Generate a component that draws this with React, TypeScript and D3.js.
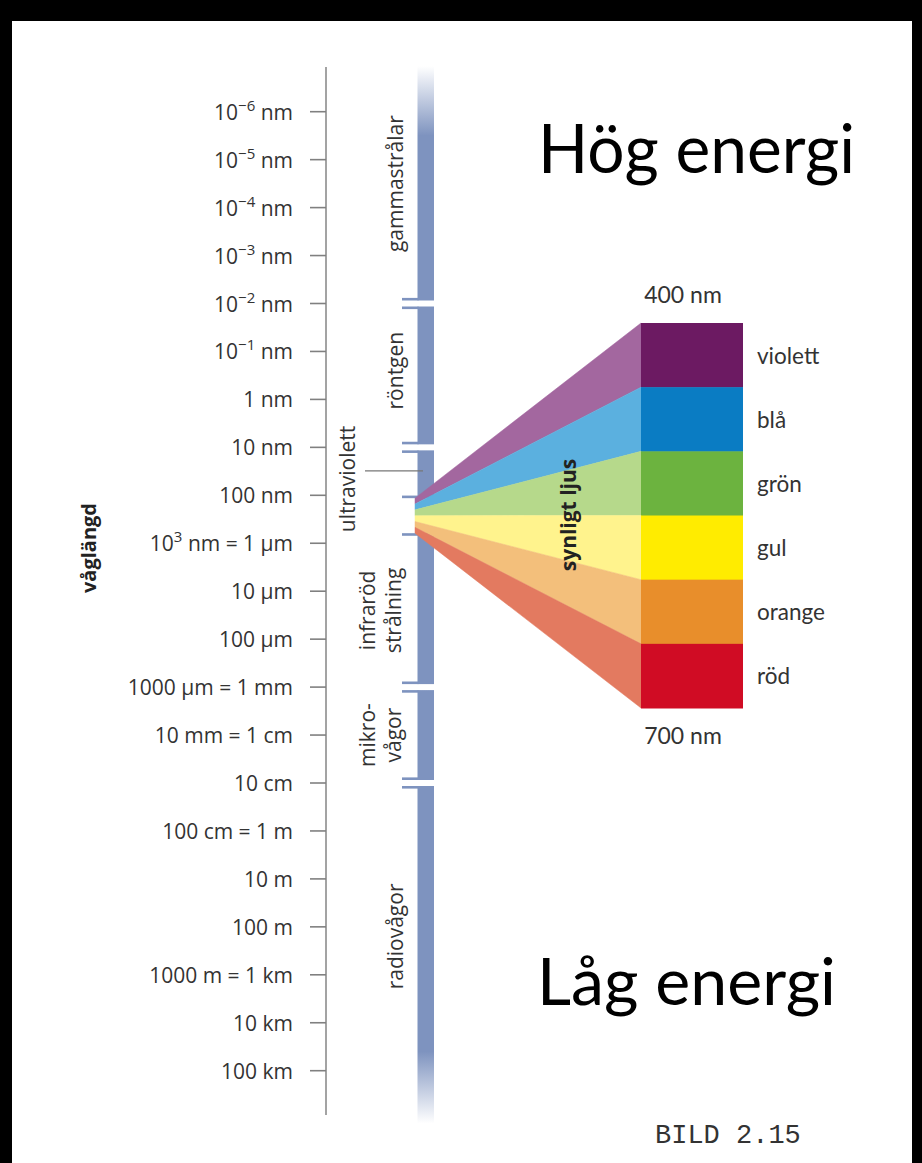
import * as d3 from 'd3';

// wavelength ticks, log10 of the wavelength in nm
const tickExponents = [-6, -5, -4, -3, -2, -1, 0, 1, 2, 3, 4, 5, 6, 7, 8, 9, 10, 11, 12, 13, 14];
const tickLabels = [
  '10^−6 nm', '10^−5 nm', '10^−4 nm', '10^−3 nm', '10^−2 nm', '10^−1 nm', '1 nm', '10 nm', '100 nm',
  '10^3 nm = 1 µm', '10 µm', '100 µm', '1000 µm = 1 mm', '10 mm = 1 cm', '10 cm', '100 cm = 1 m',
  '10 m', '100 m', '1000 m = 1 km', '10 km', '100 km',
];

// regions along the bar (log10 nm, as drawn in the figure)
const regionNames = [['gammastrålar'], ['röntgen'], ['ultraviolett'], ['infraröd', 'strålning'], ['mikro-', 'vågor'], ['radiovågor']];
const regionFrom = [-6.95, -2, 1, 2.79, 6, 8];
const regionTo = [-2, 1, 2.06, 6, 8, 15.1];
const regionLabelAt = [-4.5, -0.6, 1.66, 4.4, 7, 11.2];
const uvMarker = 1.49;
const visibleSpan = [2.06, 2.79];

const colorNames = ['violett', 'blå', 'grön', 'gul', 'orange', 'röd'];
const colorSolid = ['#6c1a62', '#0a7cc3', '#6cb33f', '#ffec00', '#e88e2b', '#d00c24'];
const colorLight = ['#a3679f', '#5bb0df', '#b6d98b', '#fff38d', '#f3bf7b', '#e37a60'];

const W = 922;
const H = 1163;
const axisX = 326;
const barX = 417.5;
const barW = 16.5;
const textFont = '"Open Sans", sans-serif';
const calFont = 'Lato, "Open Sans", sans-serif';

function TickLabel({ label, x, y }: { label: string; x: number; y: number }) {
  const parts = label.split('^');
  if (parts.length === 1) {
    return (
      <text x={x} y={y} textAnchor="end" dominantBaseline="central">
        {label}
      </text>
    );
  }
  const rest = parts[1];
  const sp = rest.indexOf(' ');
  const sup = rest.slice(0, sp);
  const tail = rest.slice(sp);
  return (
    <text x={x} y={y} textAnchor="end" dominantBaseline="central">
      {parts[0]}
      <tspan dy={-7} fontSize={15}>{sup}</tspan>
      <tspan dy={7}>{tail}</tspan>
    </text>
  );
}

export default function App() {
  const y = d3.scaleLinear().domain([-6, 14]).range([111.7, 1070.7]);
  const gap = 3;

  const topY = y(regionFrom[0]);
  const botY = y(regionTo[regionTo.length - 1]);
  const fadeStops = [
    { at: topY, o: 0 },
    { at: y(-5.5), o: 1 },
    { at: y(13.6), o: 1 },
    { at: botY, o: 0 },
  ];

  const rectY = d3.scaleBand<string>().domain(colorNames).range([323, 708]);
  const apexY = d3.scaleBand<string>().domain(colorNames).range([y(visibleSpan[0]), y(visibleSpan[1])]);
  const fanX0 = 415;
  const rectX0 = 641;
  const rectX1 = 743;
  const line = d3.line();

  const segs = regionNames.map((_, i) => {
    let y0 = y(regionFrom[i]);
    let y1 = y(regionTo[i]);
    const startIsBreak = i > 0 && regionFrom[i] === regionTo[i - 1];
    const endIsBreak = i < regionNames.length - 1 && regionTo[i] === regionFrom[i + 1];
    if (startIsBreak) y0 += gap;
    if (endIsBreak) y1 -= gap;
    return { y0, y1, serifTop: i > 0, serifBottom: i < regionNames.length - 1 };
  });

  return (
    <svg width={W} height={H} style={{ position: 'absolute', left: 0, top: 0, background: '#fff' }}>
      <defs>
        <linearGradient id="barFade" gradientUnits="userSpaceOnUse" x1={0} y1={topY} x2={0} y2={botY}>
          {fadeStops.map((s, i) => (
            <stop key={i} offset={(s.at - topY) / (botY - topY)} stopColor="#7e93bf" stopOpacity={s.o} />
          ))}
        </linearGradient>
      </defs>
      <rect x={0} y={0} width={W} height={H} fill="#fff" />

      {/* axis */}
      <line x1={axisX} x2={axisX} y1={67} y2={1115} stroke="#8c8c8c" strokeWidth={1.6} />
      <g fontFamily={textFont} fontSize={21} fill="#333">
        {tickExponents.map((e, i) => (
          <g key={e}>
            <line x1={axisX - 16} x2={axisX} y1={y(e)} y2={y(e)} stroke="#808080" strokeWidth={1.6} />
            <TickLabel label={tickLabels[i]} x={293} y={y(e)} />
          </g>
        ))}
      </g>

      {/* region bar */}
      {segs.map((s, i) => (
        <g key={i} fill="url(#barFade)">
          <rect x={barX} y={s.y0} width={barW} height={s.y1 - s.y0} />
          {s.serifTop && <rect x={402} y={s.y0} width={barX - 402 + 1} height={2.6} fill="#7e93bf" />}
          {s.serifBottom && <rect x={402} y={s.y1 - 2.6} width={barX - 402 + 1} height={2.6} fill="#7e93bf" />}
        </g>
      ))}
      <line x1={365} x2={423} y1={y(uvMarker)} y2={y(uvMarker)} stroke="#777" strokeWidth={1.3} />

      {/* region labels */}
      <g fontFamily={textFont} fontSize={21} fill="#333" textAnchor="middle">
        {regionNames.map((lines, i) => {
          const cx = i === 2 ? 347 : lines.length === 1 ? 395 : 380;
          return (
            <text key={i} transform={`translate(${cx},${y(regionLabelAt[i])}) rotate(-90)`} dominantBaseline="central">
              {lines.map((t, j) => (
                <tspan key={j} x={0} y={(j - (lines.length - 1) / 2) * 26}>{t}</tspan>
              ))}
            </text>
          );
        })}
      </g>
      <text transform={`translate(88,548) rotate(-90)`} textAnchor="middle" dominantBaseline="central"
        fontFamily={textFont} fontWeight="bold" fontSize={20} fill="#222">våglängd</text>

      {/* visible light fan */}
      {colorNames.map((c, i) => {
        const a0 = apexY(c)!;
        const a1 = a0 + apexY.bandwidth();
        const r0 = rectY(c)!;
        const r1 = r0 + rectY.bandwidth();
        return (
          <g key={c}>
            <path d={line([[fanX0, a0], [rectX0, r0], [rectX0, r1], [fanX0, a1]])! + 'Z'} fill={colorLight[i]} stroke={colorLight[i]} strokeWidth={0.5} />
            <rect x={rectX0} y={r0} width={rectX1 - rectX0} height={rectY.bandwidth() + 0.5} fill={colorSolid[i]} />
            <text x={757} y={r0 + rectY.bandwidth() / 2} dominantBaseline="central" fontFamily={calFont} fontSize={22.5} fill="#333">{c}</text>
          </g>
        );
      })}
      <text transform="translate(568,515) rotate(-90)" textAnchor="middle" dominantBaseline="central"
        fontFamily={textFont} fontWeight="bold" fontSize={21} fill="#222">synligt ljus</text>
      <text x={683} y={303} textAnchor="middle" fontFamily={calFont} fontSize={23} fill="#333">400 nm</text>
      <text x={683} y={744} textAnchor="middle" fontFamily={calFont} fontSize={23} fill="#333">700 nm</text>

      {/* energy captions */}
      <text x={538} y={173} fontFamily={calFont} fontSize={67} textLength={317} lengthAdjust="spacingAndGlyphs" fill="#000">Hög energi</text>
      <text x={537} y={1005} fontFamily={calFont} fontSize={66} textLength={299} lengthAdjust="spacingAndGlyphs" fill="#000">Låg energi</text>
      <text x={655} y={1143} fontFamily='"Liberation Mono", monospace' fontSize={27} fill="#333">BILD 2.15</text>

      {/* black frame */}
      <rect x={0} y={0} width={W} height={21} fill="#000" />
      <rect x={0} y={0} width={12} height={H} fill="#000" />
      <rect x={912} y={0} width={10} height={H} fill="#000" />
    </svg>
  );
}
